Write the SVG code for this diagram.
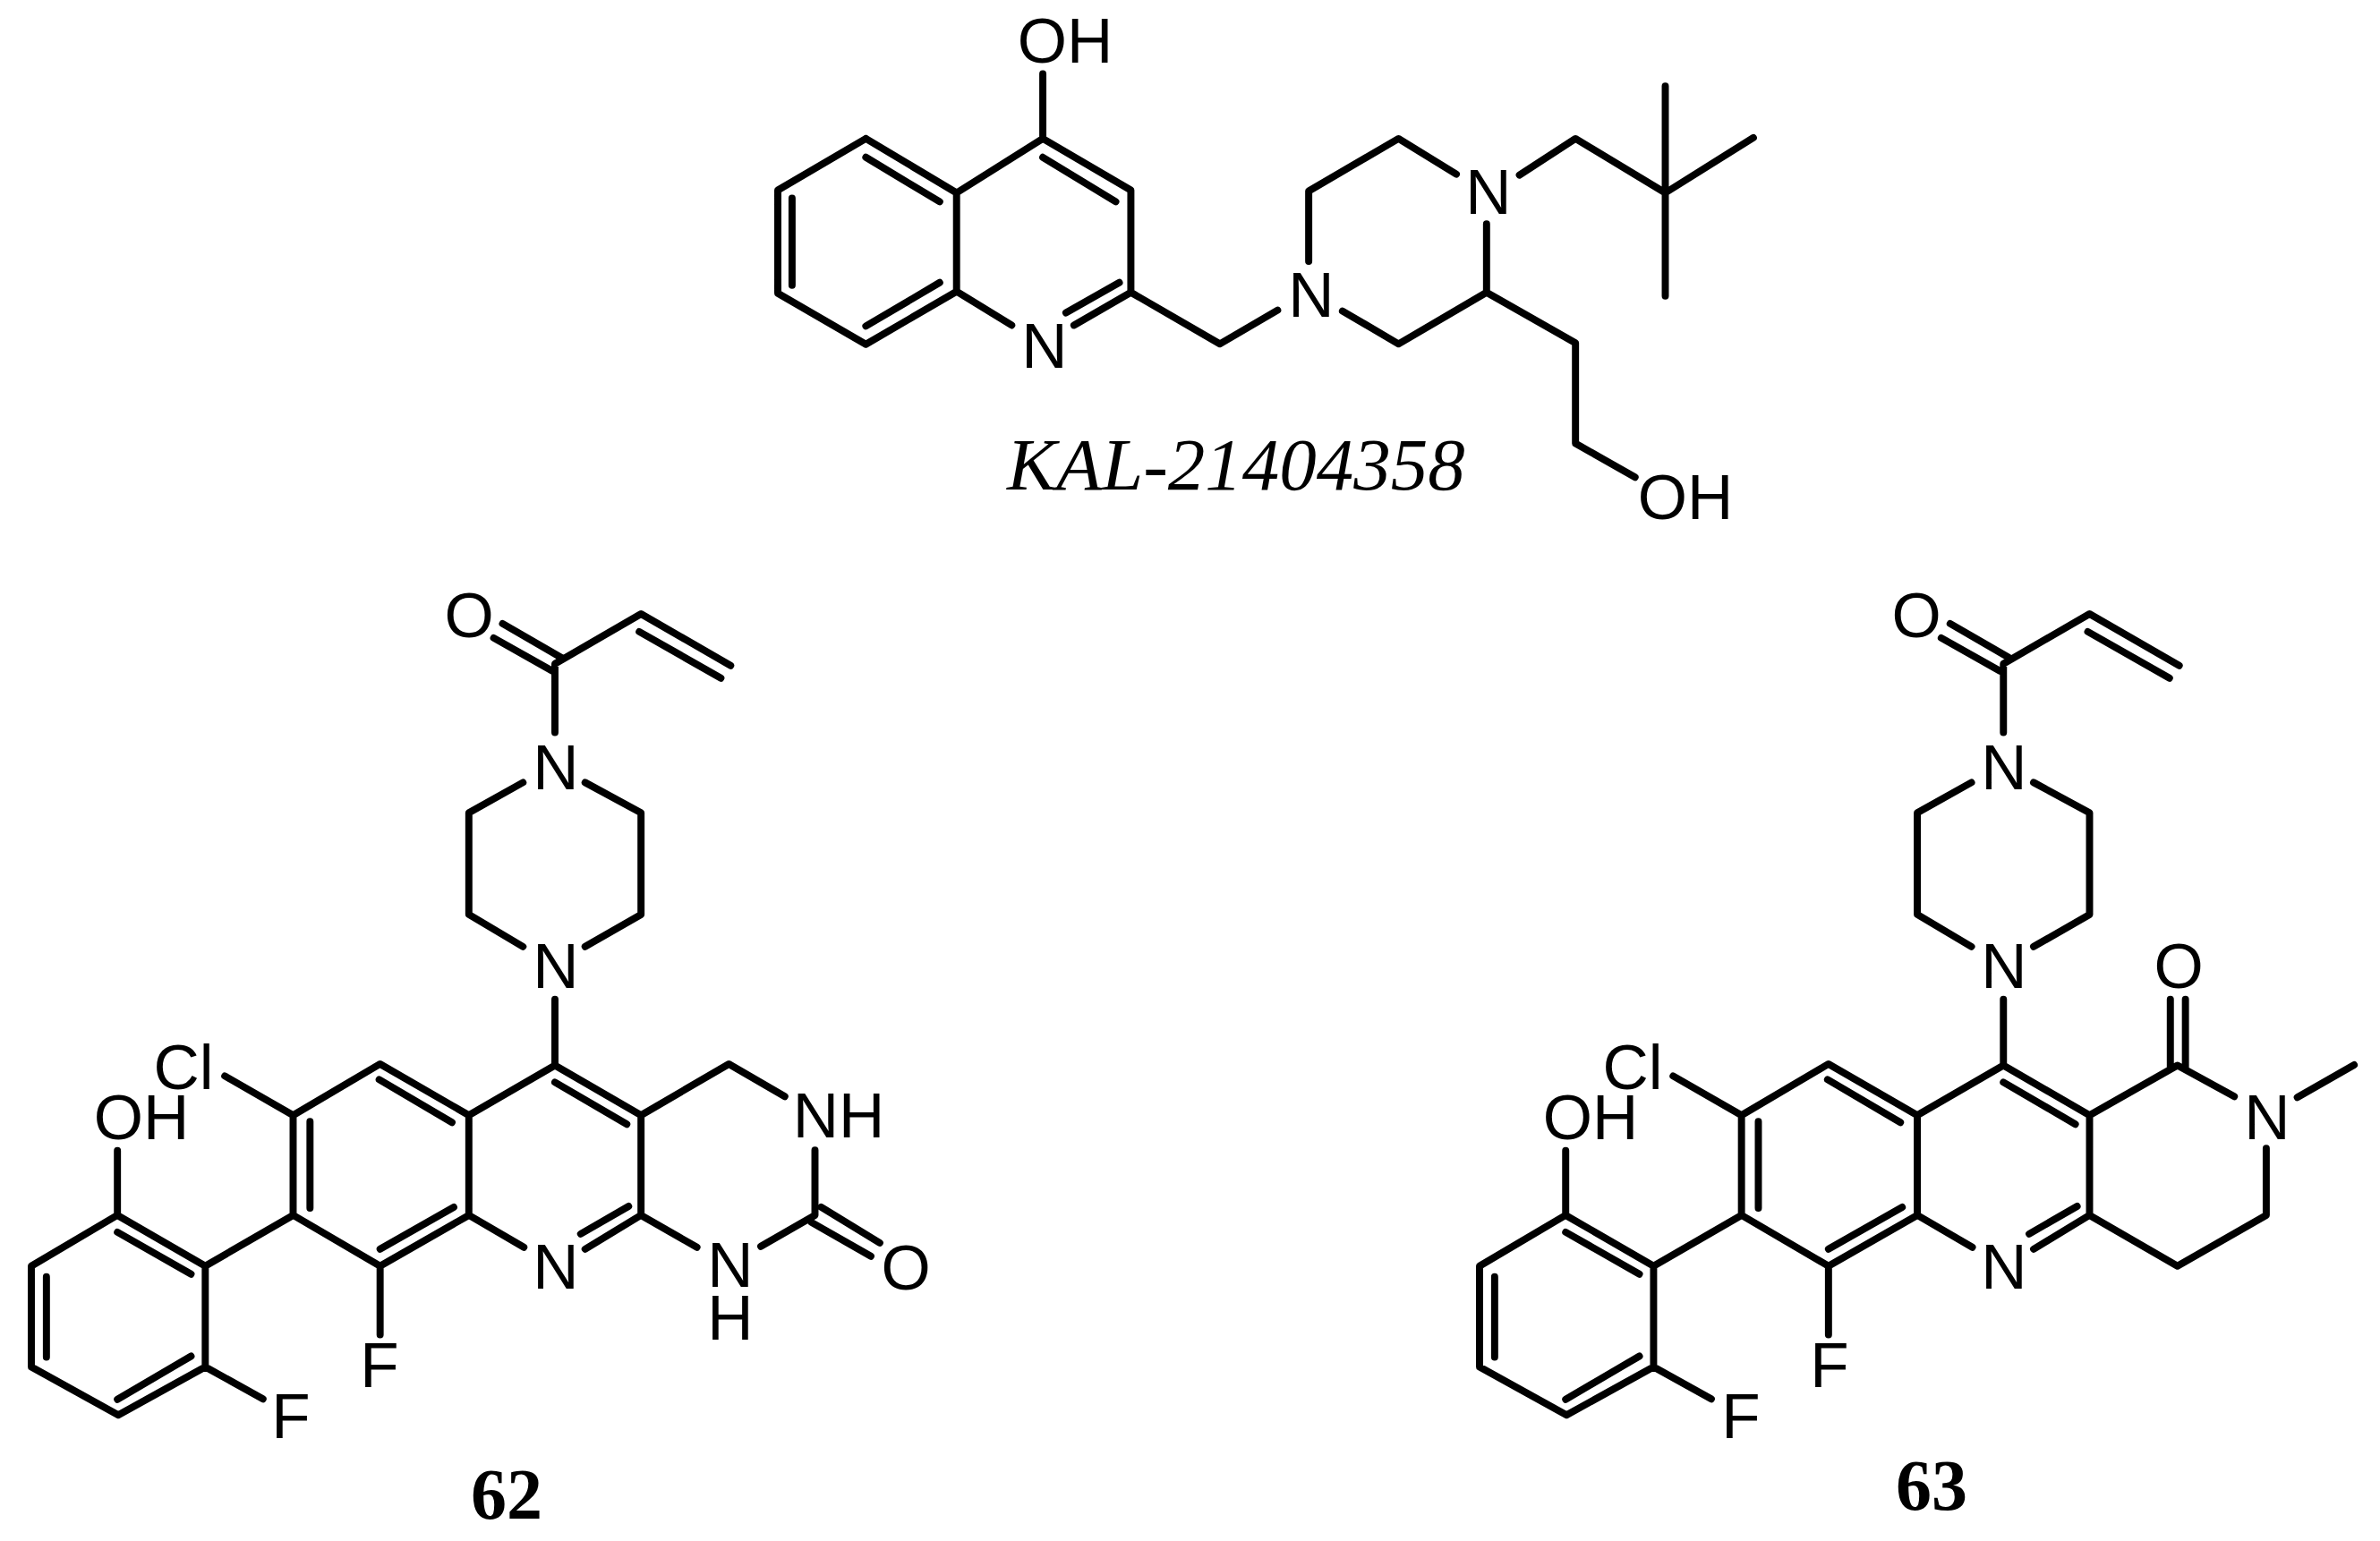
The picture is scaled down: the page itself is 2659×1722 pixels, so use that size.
<svg xmlns="http://www.w3.org/2000/svg" width="2659" height="1722" viewBox="0 0 2659 1722">
<style>
.b{fill:none;stroke:#000;stroke-width:8;stroke-linecap:round;stroke-linejoin:round}
text{fill:#000}
.a{font-family:"Liberation Sans",Arial,sans-serif;font-size:71px;text-anchor:middle}
.c{font-family:"Liberation Serif","Times New Roman",serif;font-size:80px;font-weight:bold;text-anchor:middle}
.k{font-family:"Liberation Serif","Times New Roman",serif;font-size:83px;font-style:italic}
</style>
<rect width="2659" height="1722" fill="#fff"/>
<g id="connectors">
<path id="bonds-kal" class="b" transform="matrix(.9935 0 0 .993 5.65 2)" d="M968 154L869 212V328L968 385.500L1070 326V215L968 154M968 175L1051 225M885 221V319M968 365L1051 316M1070 215L1167 154L1266 212V327L1366 385L1431 347M1167 81V154M1167 175L1249 225M1070 326L1132 364M1266 327L1202 364M1193 350L1253 316M1466 292V213L1567 154L1632 194M1504 348L1567 385L1666 327V250M1666 327L1766 384V497L1833 535M1703 195L1766 154L1867 215V95M1867 215V331M1867 215L1966 153"/>
<path id="bonds-62" class="b" transform="matrix(.9915 0 0 .997 .3 2)" d="M625 819V742L722 686L823 744M720 706L812 758M566 697L632 735M556 713L622 750M589 875L528 909V1023L589 1059M659 875L722 909V1023L659 1059M625 1118V1192M625 1192L528 1248L428 1190.500L330 1248V1360L428 1417L528 1360V1248M528 1360L590 1396M625 1192L722 1248V1360L659 1398M722 1248L821 1190.500L884 1227M722 1360L785 1396M857 1395L918 1360V1287M925 1351L991 1391M914 1368L981 1406M427 1208L509 1256M349 1255V1352M428 1398L511 1351M625 1211L706 1258M654 1381L708 1350M330 1248L253 1204M428 1417V1494M330 1360L231 1417L132 1360V1287.500M132 1360L35 1417V1530L133 1584L231 1530V1417M231 1530L296 1566M132 1379L215 1426M52 1429V1519M132 1566.500L215 1518"/>
<path id="bonds-63" class="b" transform="matrix(.992 0 0 .997 13.22 2)" d="M2243 819V742L2340 686L2441 744M2338 706L2430 758M2183 697L2249 735M2173 713L2239 750M2207 875L2146 909V1023L2207 1059M2277 875L2340 909V1023L2277 1059M2243 1118V1192M2243 1192L2146 1248L2046 1190.500L1948 1248V1360L2046 1417L2146 1360V1248M2146 1360L2208 1396M2243 1192L2340 1248V1360L2277 1398M2340 1248L2439 1192L2503 1227M2340 1360L2439 1417L2539 1360V1285M2574 1228L2638 1191.500M2431 1118V1194M2448 1118V1194M2045 1208L2127 1256M1967 1255V1352M2046 1398L2129 1351M2243 1211L2324 1258M2272 1381L2326 1350M1948 1248L1871 1204M2046 1417V1494M1948 1360L1849 1417L1750 1360V1287.500M1750 1360L1653 1417V1530L1751 1584L1849 1530V1417M1849 1530L1914 1566M1750 1379L1833 1426M1670 1429V1519M1750 1566.500L1833 1518"/>
</g>
<g id="kal-21404358">
<text class="a" x="1190" y="70">OH</text>
<text class="a" x="1167" y="411">N</text>
<text class="a" x="1465" y="354">N</text>
<text class="a" x="1663" y="239">N</text>
<text class="a" x="1883" y="580">OH</text>
<text class="k" x="1125" y="547">KAL-21404358</text>
</g>
<g id="compound-62">
<text class="a" x="524" y="712">O</text>
<text class="a" x="621" y="882">N</text>
<text class="a" x="621" y="1104">N</text>
<text class="a" x="205" y="1217">Cl</text>
<text class="a" x="158" y="1273">OH</text>
<text class="a" x="937" y="1271">NH</text>
<text class="a" x="621" y="1440">N</text>
<text class="a" x="816" y="1438">N</text>
<text class="a" x="816" y="1497">H</text>
<text class="a" x="1012" y="1441">O</text>
<text class="a" x="424" y="1550">F</text>
<text class="a" x="325" y="1607">F</text>
<text class="c" x="566" y="1697">62</text>
</g>
<g id="compound-63">
<text class="a" x="2141" y="712">O</text>
<text class="a" x="2239" y="882">N</text>
<text class="a" x="2239" y="1104">N</text>
<text class="a" x="2434" y="1104">O</text>
<text class="a" x="1824" y="1217">Cl</text>
<text class="a" x="1777" y="1273">OH</text>
<text class="a" x="2533" y="1273">N</text>
<text class="a" x="2239" y="1440">N</text>
<text class="a" x="2044" y="1550">F</text>
<text class="a" x="1945" y="1607">F</text>
<text class="c" x="2158" y="1687">63</text>
</g>
</svg>
